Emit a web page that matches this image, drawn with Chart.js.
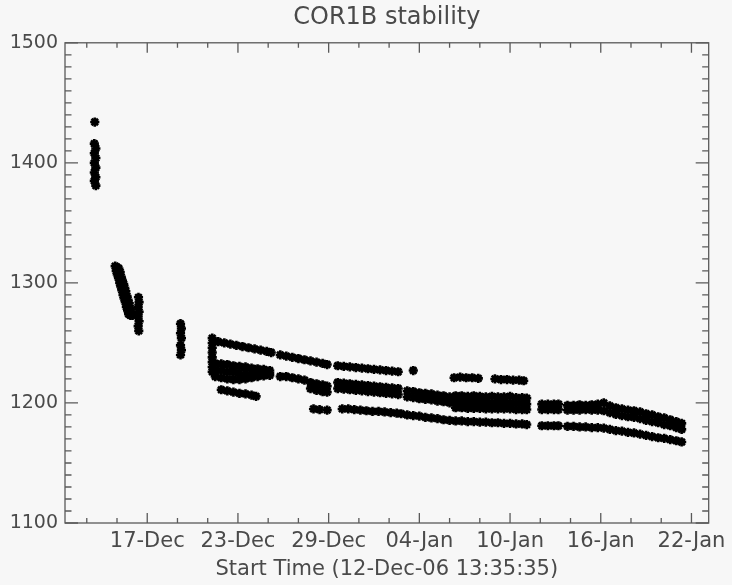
<!DOCTYPE html>
<html>
<head>
<meta charset="utf-8">
<script src="https://cdn.jsdelivr.net/npm/chart.js@4/dist/chart.umd.min.js"></script>
<style>
  html, body { margin: 0; padding: 0; background: #f7f7f7; }
  canvas { display: block; }
</style>
</head>
<body>
<canvas id="chart" width="732" height="585"></canvas>
<script>
// x = days since 01-Dec-2006 00:00, y = counts
const tickDays = [16, 22, 28, 34, 40, 46, 52];
const tickLabels = ['17-Dec', '23-Dec', '29-Dec', '04-Jan', '10-Jan', '16-Jan', '22-Jan'];
const yTicks = [1100, 1200, 1300, 1400, 1500];

// first days: isolated column, diagonal blob, two short columns
const earlyPts = [
  [12.53, 1434],
  [12.50, 1416], [12.60, 1412], [12.50, 1408], [12.60, 1404], [12.50, 1400], [12.60, 1396],
  [12.50, 1392], [12.60, 1388], [12.50, 1385], [12.60, 1381],
  [13.88, 1314], [13.95, 1310], [14.02, 1307], [14.10, 1304], [14.18, 1300], [14.25, 1297], [14.32, 1294],
  [14.40, 1290], [14.47, 1287], [14.55, 1284], [14.62, 1280], [14.70, 1277], [14.77, 1274],
  [14.00, 1313], [14.07, 1310], [14.14, 1306], [14.22, 1303], [14.30, 1300], [14.37, 1296], [14.44, 1293],
  [14.52, 1290], [14.59, 1286], [14.67, 1283], [14.74, 1280], [14.82, 1276], [14.89, 1273],
  [14.12, 1312], [14.21, 1309], [14.28, 1305], [14.36, 1302], [14.44, 1299], [14.51, 1296], [14.58, 1293],
  [14.66, 1289], [14.73, 1286], [14.81, 1283], [14.88, 1279], [14.96, 1276], [15.03, 1273],
  [15.42, 1288], [15.46, 1284], [15.40, 1280], [15.46, 1276], [15.40, 1272], [15.46, 1268], [15.40, 1264], [15.44, 1260],
  [18.20, 1266], [18.26, 1262], [18.20, 1258], [18.26, 1254], [18.20, 1248], [18.26, 1244], [18.20, 1240]
];

// upper track
const topPts = [
  [20.30, 1254], [20.30, 1250], [20.30, 1246], [20.30, 1242], [20.30, 1238], [20.30, 1234], [20.30, 1230], [20.30, 1226],
  [20.7, 1251], [21.1, 1250], [21.5, 1249], [21.9, 1248], [22.3, 1247], [22.7, 1246], [23.1, 1245], [23.5, 1244], [23.9, 1243], [24.2, 1242],
  [24.8, 1240], [25.2, 1239], [25.6, 1238], [26.0, 1237], [26.4, 1236], [26.8, 1235], [27.2, 1234], [27.6, 1233], [27.9, 1232],
  [28.6, 1231], [29.0, 1230.5], [29.4, 1230], [29.8, 1229.5], [30.2, 1229], [30.6, 1228.5], [31.0, 1228], [31.4, 1227.5],
  [31.8, 1227], [32.2, 1226.5], [32.6, 1226],
  [33.6, 1227],
  [36.3, 1221], [36.7, 1221.5], [37.1, 1221], [37.5, 1221], [37.9, 1220.5],
  [39.0, 1220], [39.4, 1219.5], [39.8, 1219.5], [40.2, 1219], [40.6, 1219], [40.9, 1218.5]
];

// middle track
const midPts = [
  [20.5, 1233], [20.9, 1232.5], [21.3, 1232], [21.7, 1231], [22.1, 1230.5], [22.5, 1230], [22.9, 1229], [23.3, 1228.5], [23.7, 1228], [24.1, 1227],
  [20.5, 1227.5], [20.9, 1227], [21.3, 1226], [21.7, 1225.5], [22.1, 1225], [22.5, 1225], [22.9, 1225], [23.3, 1224.5], [23.7, 1225], [24.1, 1225],
  [20.5, 1222], [20.9, 1221], [21.3, 1220], [21.7, 1219.5], [22.1, 1219.5], [22.5, 1220], [22.9, 1221], [23.3, 1222], [23.7, 1222.5], [24.1, 1223],
  [24.8, 1222], [25.2, 1222], [25.6, 1221], [26.0, 1220], [26.4, 1219], [26.8, 1217], [27.2, 1216], [27.6, 1215], [27.9, 1214],
  [26.8, 1212], [27.2, 1210.5], [27.6, 1209.5], [27.9, 1209],
  [28.6, 1217], [29.0, 1216.5], [29.4, 1216], [29.8, 1215.5], [30.2, 1215], [30.6, 1214.5], [31.0, 1214], [31.4, 1213.5],
  [31.8, 1213], [32.2, 1212.5], [32.6, 1212],
  [28.6, 1212], [29.0, 1211.5], [29.4, 1211], [29.8, 1210.5], [30.2, 1210], [30.6, 1209.5], [31.0, 1209], [31.4, 1208.5],
  [31.8, 1208], [32.2, 1207.5], [32.6, 1207],
  [33.2, 1210], [33.6, 1209.5], [34.0, 1208.5], [34.4, 1208], [34.8, 1207.5], [35.2, 1206.5], [35.6, 1206], [36.0, 1205],
  [33.2, 1205], [33.6, 1204.5], [34.0, 1203.5], [34.4, 1203], [34.8, 1202.5], [35.2, 1201.5], [35.6, 1201], [36.0, 1200],
  [36.4, 1206], [36.8, 1206], [37.2, 1205.5], [37.6, 1206], [38.0, 1205.5], [38.4, 1205], [38.8, 1205.5], [39.2, 1205],
  [39.6, 1205], [40.0, 1205.5], [40.4, 1204.5], [40.8, 1204.5], [41.1, 1204],
  [36.4, 1201], [36.8, 1201], [37.2, 1200.5], [37.6, 1200.5], [38.0, 1200.5], [38.4, 1200], [38.8, 1200], [39.2, 1200],
  [39.6, 1200], [40.0, 1200], [40.4, 1199.5], [40.8, 1199.5], [41.1, 1199],
  [36.4, 1196], [36.8, 1196], [37.2, 1195.5], [37.6, 1195.5], [38.0, 1195.5], [38.4, 1195], [38.8, 1195], [39.2, 1195],
  [39.6, 1195], [40.0, 1195], [40.4, 1194.5], [40.8, 1194.5], [41.1, 1194.5],
  [42.1, 1199], [42.5, 1199], [42.9, 1199], [43.2, 1199],
  [42.1, 1194.5], [42.5, 1194.5], [42.9, 1194.5], [43.2, 1194.5],
  [43.8, 1198], [44.2, 1198], [44.6, 1198.5], [45.0, 1198], [45.4, 1198.5], [45.8, 1199], [46.2, 1200], [46.6, 1197.5],
  [47.0, 1196], [47.4, 1195], [47.8, 1194], [48.2, 1193.5], [48.6, 1192.5], [49.0, 1191], [49.4, 1190], [49.8, 1188.5],
  [50.2, 1187.5], [50.6, 1186], [51.0, 1184.5], [51.35, 1183],
  [43.8, 1194], [44.2, 1194], [44.6, 1194], [45.0, 1194.5], [45.4, 1194], [45.8, 1194], [46.2, 1193.5], [46.6, 1192],
  [47.0, 1190.5], [47.4, 1189.5], [47.8, 1188.5], [48.2, 1188], [48.6, 1187], [49.0, 1185.5], [49.4, 1184.5], [49.8, 1183.5],
  [50.2, 1182], [50.6, 1181], [51.0, 1179.5], [51.35, 1178]
];

// lower track
const lowPts = [
  [20.9, 1211], [21.3, 1210], [21.7, 1209], [22.1, 1208], [22.5, 1207.5], [22.9, 1206.5], [23.2, 1205.5],
  [27.0, 1195], [27.4, 1194.5], [27.9, 1194],
  [28.9, 1195], [29.3, 1195], [29.7, 1194.5], [30.1, 1194], [30.5, 1193.5], [30.9, 1193], [31.3, 1193], [31.7, 1192.5],
  [32.1, 1192], [32.5, 1191.5], [32.8, 1191],
  [33.2, 1190], [33.6, 1189.5], [34.0, 1189], [34.4, 1188], [34.8, 1187.5], [35.2, 1187], [35.6, 1186], [36.0, 1185.5],
  [36.4, 1185], [36.8, 1185], [37.2, 1184.5], [37.6, 1184.5], [38.0, 1184], [38.4, 1184], [38.8, 1183.5], [39.2, 1183.5],
  [39.6, 1183], [40.0, 1183], [40.4, 1182.5], [40.8, 1182.5], [41.1, 1182],
  [42.1, 1181], [42.5, 1181], [42.9, 1181], [43.2, 1181],
  [43.8, 1180.5], [44.2, 1180.5], [44.6, 1180], [45.0, 1180], [45.4, 1179.5], [45.8, 1179.5], [46.2, 1179], [46.6, 1178],
  [47.0, 1177], [47.4, 1176.5], [47.8, 1175.5], [48.2, 1175], [48.6, 1174], [49.0, 1173], [49.4, 1172], [49.8, 1171],
  [50.2, 1170.5], [50.6, 1169.5], [51.0, 1168.5], [51.35, 1167.5]
];

const font = 'DejaVu Sans';
const textColor = '#4a4a4a';
const axisColor = '#5a5a5a';

// IDL-style box with inward ticks on all four sides
const boxTicks = {
  id: 'boxTicks',
  beforeDraw(chart) {
    const ctx = chart.ctx;
    ctx.save();
    ctx.fillStyle = '#f7f7f7';
    ctx.fillRect(0, 0, chart.width, chart.height);
    ctx.restore();
  },
  afterDraw(chart) {
    const { ctx, chartArea: a, scales: { x, y } } = chart;
    ctx.save();
    ctx.strokeStyle = axisColor;
    ctx.lineWidth = 1.3;
    ctx.strokeRect(a.left, a.top, a.right - a.left, a.bottom - a.top);
    ctx.beginPath();
    for (let d = 12; d <= 52; d += 2) {
      const px = x.getPixelForValue(d);
      const len = (d - 16) % 6 === 0 ? 10 : 5;
      ctx.moveTo(px, a.bottom); ctx.lineTo(px, a.bottom - len);
      ctx.moveTo(px, a.top); ctx.lineTo(px, a.top + len);
    }
    for (let v = 1100; v <= 1500; v += 10) {
      const py = y.getPixelForValue(v);
      const len = v % 100 === 0 ? 13 : 6.5;
      ctx.moveTo(a.left, py); ctx.lineTo(a.left + len, py);
      ctx.moveTo(a.right, py); ctx.lineTo(a.right - len, py);
    }
    ctx.stroke();
    ctx.restore();
  }
};

const allPts = earlyPts.concat(topPts, midPts, lowPts);

new Chart(document.getElementById('chart'), {
  type: 'scatter',
  data: {
    datasets: [{
      data: allPts.map(([x, y]) => ({ x, y })),
      pointStyle: 'star',
      pointRadius: 4.6,
      borderColor: '#000',
      backgroundColor: '#000',
      borderWidth: 2.6
    }]
  },
  options: {
    responsive: false,
    animation: false,
    devicePixelRatio: 1,
    layout: { padding: { left: 0, right: 22.5, top: 0, bottom: 0 } },
    plugins: {
      legend: { display: false },
      tooltip: { enabled: false },
      title: {
        display: true,
        fullSize: false,
        text: 'COR1B stability',
        color: textColor,
        font: { family: font, size: 24, weight: 'normal' },
        padding: { top: 3, bottom: 11 }
      }
    },
    scales: {
      x: {
        type: 'linear',
        min: 10.56,
        max: 53.14,
        grid: { display: false, drawTicks: false },
        border: { display: false },
        afterBuildTicks: s => { s.ticks = tickDays.map(v => ({ value: v })); },
        afterFit: s => { s.height = 62; },
        ticks: {
          autoSkip: false,
          maxRotation: 0,
          padding: 6,
          color: textColor,
          font: { family: font, size: 21 },
          callback: v => tickLabels[tickDays.indexOf(v)]
        },
        title: {
          display: true,
          text: 'Start Time (12-Dec-06 13:35:35)',
          color: textColor,
          font: { family: font, size: 21 },
          padding: { top: 0, bottom: 3 }
        }
      },
      y: {
        min: 1100,
        max: 1500,
        grid: { display: false, drawTicks: false },
        border: { display: false },
        afterBuildTicks: s => { s.ticks = yTicks.map(v => ({ value: v })); },
        afterFit: s => { s.width = 65; },
        ticks: {
          padding: 7,
          color: textColor,
          font: { family: font, size: 19 },
          callback: v => String(v)
        }
      }
    }
  },
  plugins: [boxTicks]
});
</script>
</body>
</html>
